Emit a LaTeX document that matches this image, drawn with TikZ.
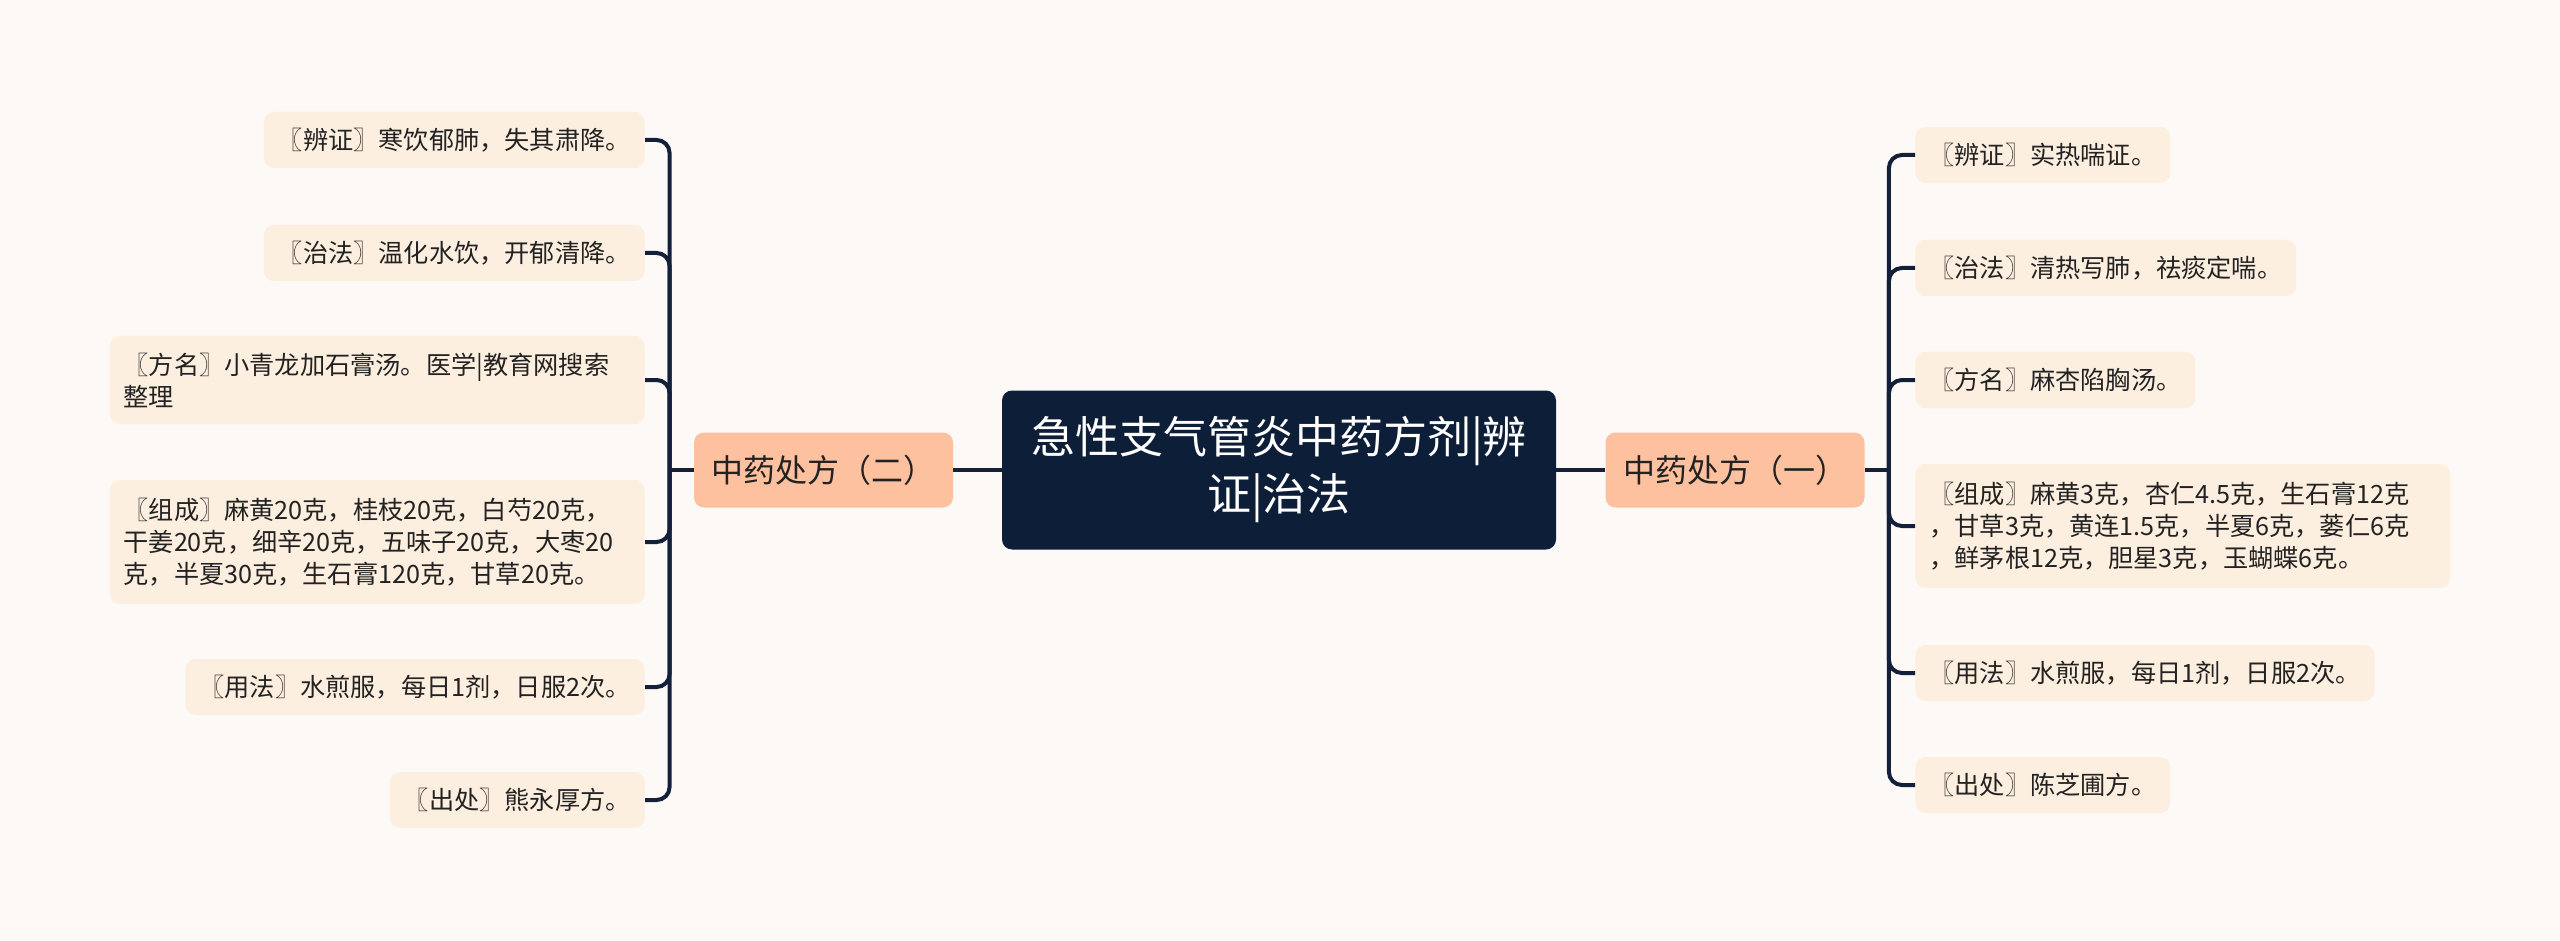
\documentclass[tikz,border=0pt]{standalone}
\usepackage{fontspec}
\usepackage{xcolor}
\newfontfamily\cjk{Noto Sans CJK SC}
\definecolor{bgcol}{HTML}{FDF9F7}
\definecolor{leafcol}{HTML}{FDEFE0}
\definecolor{branchcol}{HTML}{FDC1A0}
\definecolor{rootcol}{HTML}{0D1E38}
\definecolor{linecol}{HTML}{14203A}
\definecolor{textcol}{HTML}{222222}

\begin{document}
\begin{tikzpicture}[x=0.5pt,y=-0.5pt,
	rootbox/.style={fill=rootcol, rounded corners=5pt, text=white, font=\cjk\fontsize{22}{28.5}\selectfont, align=center, minimum width=277pt, minimum height=79.5pt},
	branchbox/.style={fill=branchcol, rounded corners=5pt, text=textcol, font=\cjk\fontsize{16}{20}\selectfont, minimum width=129.5pt, minimum height=37.5pt},
	leafbox/.style={fill=leafcol, rounded corners=5pt, text=textcol, font=\cjk\fontsize{12.6}{16}\selectfont, inner xsep=7pt, minimum height=28pt, align=left},
	twoline/.style={text width=253.5pt, minimum height=44pt},
	threeline/.style={text width=253.5pt, minimum height=62pt},
	link/.style={draw=linecol, line width=2pt, rounded corners=6.5pt}]
	\fill[bgcol] (0,0) rectangle (2560,941);
	\useasboundingbox (0,0) rectangle (2560,941);
	
	\node[rootbox] (root) at (1279,470) {急性支气管炎中药方剂|辨\\证|治法};
	\node[branchbox] (b2) at (823.5,470) {中药处方（二）};
	\node[branchbox] (b1) at (1735,470) {中药处方（一）};
	
	\node[leafbox, anchor=east] (l1) at (645,140) {〖辨证〗寒饮郁肺，失其肃降。};
	\node[leafbox, anchor=east] (l2) at (645,253) {〖治法〗温化水饮，开郁清降。};
	\node[leafbox, twoline, anchor=east] (l3) at (645,380) {〖方名〗小青龙加石膏汤。医学|教育网搜索\\整理};
	\node[leafbox, threeline, anchor=east] (l4) at (645,542) {〖组成〗麻黄20克，桂枝20克，白芍20克，\\干姜20克，细辛20克，五味子20克，大枣20\\克，半夏30克，生石膏120克，甘草20克。};
	\node[leafbox, anchor=east] (l5) at (645,687) {〖用法〗水煎服，每日1剂，日服2次。};
	\node[leafbox, anchor=east] (l6) at (645,800) {〖出处〗熊永厚方。};
	
	\node[leafbox, anchor=west] (r1) at (1915,155) {〖辨证〗实热喘证。};
	\node[leafbox, anchor=west] (r2) at (1915,268) {〖治法〗清热写肺，祛痰定喘。};
	\node[leafbox, anchor=west] (r3) at (1915,380) {〖方名〗麻杏陷胸汤。};
	\node[leafbox, threeline, anchor=west] (r4) at (1915,526) {〖组成〗麻黄3克，杏仁4.5克，生石膏12克\\，甘草3克，黄连1.5克，半夏6克，蒌仁6克\\，鲜茅根12克，胆星3克，玉蝴蝶6克。};
	\node[leafbox, anchor=west] (r5) at (1915,673) {〖用法〗水煎服，每日1剂，日服2次。};
	\node[leafbox, anchor=west] (r6) at (1915,785) {〖出处〗陈芝圃方。};
	
	\coordinate (j2) at ([xshift=-12pt]b2.west);
	\coordinate (j1) at ([xshift=12pt]b1.east);
	
	\draw[link] (root.west) -- (b2.east);
	\draw[link] (root.east) -- (b1.west);
	\draw[link] (b2.west) -- (j2);
	\draw[link] (b1.east) -- (j1);
	\foreach \n in {l1,l2,l3,l4,l5,l6}
		\draw[link] (j2) |- (\n.east);
	\foreach \n in {r1,r2,r3,r4,r5,r6}
		\draw[link] (j1) |- (\n.west);
\end{tikzpicture}
\end{document}
